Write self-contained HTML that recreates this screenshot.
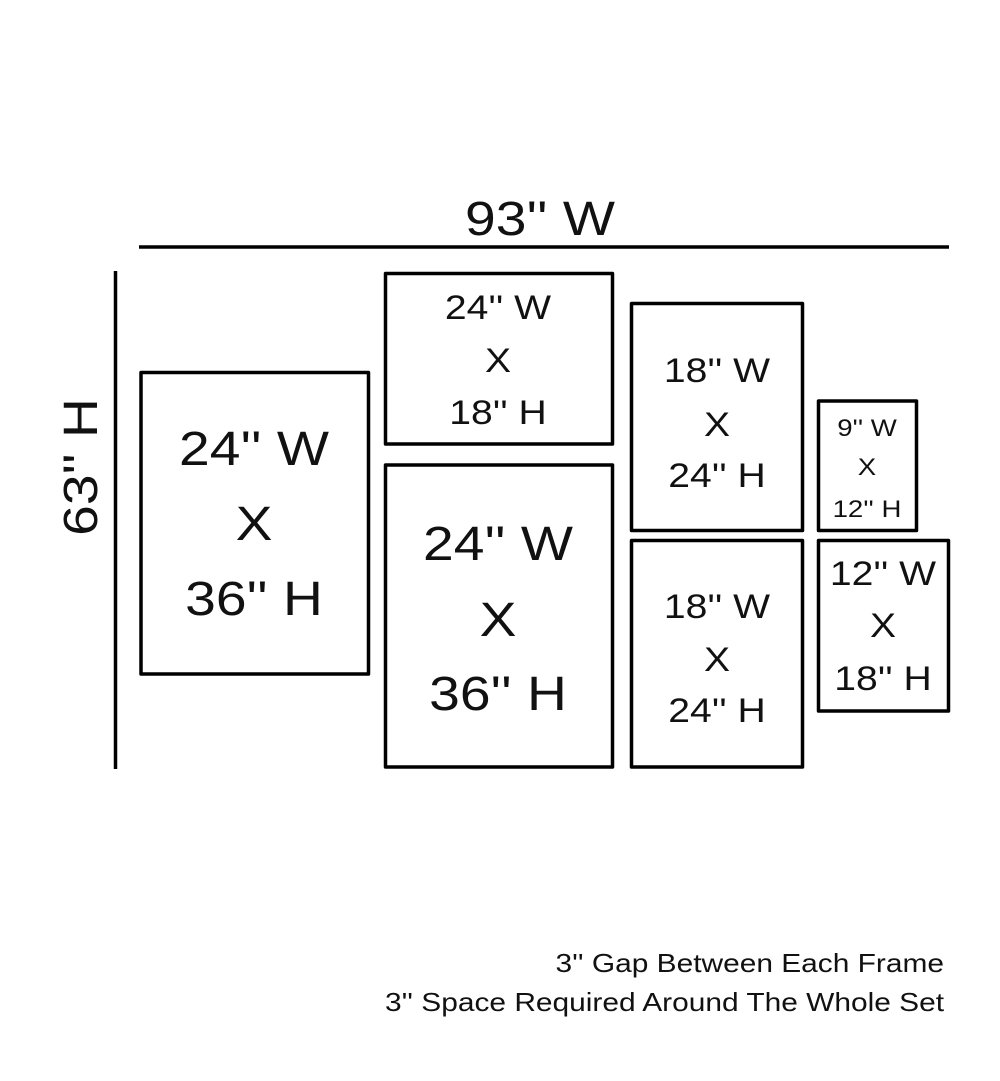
<!DOCTYPE html>
<html><head><meta charset="utf-8"><style>
html,body{margin:0;padding:0;background:#fff}
svg{display:block}
text{font-family:"Liberation Sans",sans-serif;fill:#111;font-weight:300}
</style></head><body>
<svg width="1000" height="1081" viewBox="0 0 1000 1081" xmlns="http://www.w3.org/2000/svg">
<g stroke="#000" stroke-width="3.5" fill="none" stroke-linejoin="round">
<line x1="139" y1="247" x2="949" y2="247"/>
<line x1="115.5" y1="271" x2="115.5" y2="769"/>
<rect x="141" y="372.5" width="227.5" height="301.5"/>
<rect x="385.5" y="273.5" width="227" height="170.5"/>
<rect x="385.5" y="465" width="227" height="302"/>
<rect x="631.5" y="303.5" width="171" height="227"/>
<rect x="631.5" y="540.5" width="171" height="226.5"/>
<rect x="818.5" y="401" width="98" height="129.5"/>
<rect x="818.5" y="540.5" width="130" height="170.5"/>
</g>
<g text-anchor="middle">
<g transform="translate(540,0) scale(1.15,1)"><text x="0" y="235" font-size="48">93'' W</text></g>
<g transform="translate(97,467) rotate(-90) scale(1.15,1)"><text x="0" y="0" font-size="48">63'' H</text></g>
<g font-size="48" transform="translate(254,0) scale(1.15,1)"><text x="0" y="465">24'' W</text><text x="0" y="540">X</text><text x="0" y="615">36'' H</text></g>
<g font-size="34" transform="translate(498,0) scale(1.15,1)"><text x="0" y="319">24'' W</text><text x="0" y="372">X</text><text x="0" y="424">18'' H</text></g>
<g font-size="48" transform="translate(498,0) scale(1.15,1)"><text x="0" y="560">24'' W</text><text x="0" y="636">X</text><text x="0" y="710">36'' H</text></g>
<g font-size="34" transform="translate(717,0) scale(1.15,1)"><text x="0" y="382">18'' W</text><text x="0" y="436">X</text><text x="0" y="487">24'' H</text></g>
<g font-size="34" transform="translate(717,0) scale(1.15,1)"><text x="0" y="618">18'' W</text><text x="0" y="671">X</text><text x="0" y="722">24'' H</text></g>
<g font-size="24" transform="translate(867,0) scale(1.15,1)"><text x="0" y="436">9'' W</text><text x="0" y="475">X</text><text x="0" y="517">12'' H</text></g>
<g font-size="34" transform="translate(883,0) scale(1.15,1)"><text x="0" y="585">12'' W</text><text x="0" y="637">X</text><text x="0" y="690">18'' H</text></g>
</g>
<g text-anchor="end" font-size="26" transform="translate(944,0) scale(1.15,1)">
<text x="0" y="972">3'' Gap Between Each Frame</text>
<text x="0" y="1011">3'' Space Required Around The Whole Set</text>
</g>
</svg>
</body></html>
